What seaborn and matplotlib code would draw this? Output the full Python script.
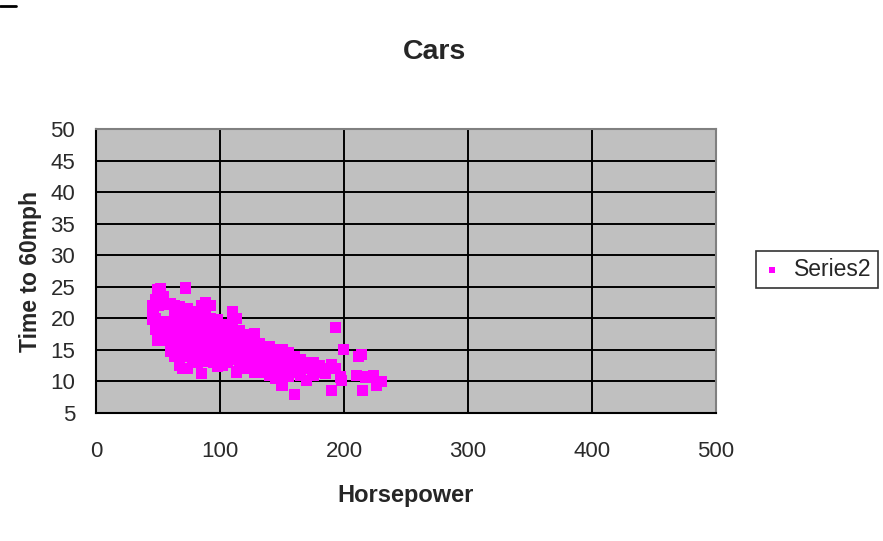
import matplotlib
matplotlib.use("Agg")
import matplotlib.pyplot as plt
from matplotlib.lines import Line2D
import seaborn as sns
import pandas as pd

# ---- data ----
horsepower = [
    46, 46, 46,
    48, 48, 48, 48,
    50, 50, 50, 50, 50, 50,
    52, 52, 52,
    54, 54, 54, 54,
    56, 56, 56, 56,
    60, 60, 60, 60, 60,
    63, 63, 63, 63, 63, 63,
    67, 67, 67, 67, 67, 67, 67,
    70, 70, 70, 70, 70, 70,
    72,
    74, 74, 74, 74, 74, 74, 74,
    78, 78, 78, 78, 78, 78,
    82, 82, 82, 82, 82, 82,
    85, 85, 85, 85,
    88, 88, 88, 88, 88, 88, 88,
    92, 92, 92, 92, 92, 92,
    95, 95, 95, 95, 95,
    98, 98, 98, 98, 98, 98,
    102, 102, 102, 102, 102, 102,
    106, 106, 106, 106, 106,
    110, 110, 110, 110, 110, 110,
    113, 113, 113, 113, 113,
    116, 116, 116, 116, 116,
    120, 120, 120, 120,
    125, 125, 125, 125, 125,
    128, 128, 128, 128, 128,
    132, 132, 132, 132,
    136, 136, 136, 136,
    140, 140, 140, 140, 140,
    145, 145, 145, 145, 145,
    150, 150, 150, 150, 150,
    155, 155, 155, 155,
    160, 160, 160, 160,
    165, 165, 165,
    170, 170, 170,
    175, 175, 175,
    180, 180,
    185, 185,
    190, 190,
    193, 193,
    197, 198, 199.5,
    210, 211.5, 214, 215, 217,
    224, 226, 230,
]
time_to_60 = [
    19.8, 21.0, 22.0,
    19.5, 20.0, 23.0, 18.3,
    24.6, 23.5, 22.0, 17.0, 16.5, 18.0,
    24.7, 16.5, 19.0,
    23.5, 22.5, 17.5, 19.0,
    22.2, 18.5, 16.5, 19.5,
    22.4, 19.0, 17.5, 16.0, 14.8,
    22.0, 20.5, 18.5, 17.0, 15.5, 14.0,
    21.8, 20.0, 18.5, 16.8, 15.0, 13.5, 12.5,
    21.0, 19.5, 18.0, 16.5, 14.5, 12.0,
    24.8,
    21.5, 20.0, 18.5, 17.0, 15.5, 14.0, 12.0,
    21.0, 19.5, 18.0, 16.5, 15.0, 13.5,
    20.5, 19.0, 17.5, 16.0, 14.5, 13.0,
    22.0, 18.5, 15.5, 11.3,
    22.5, 21.0, 19.5, 17.0, 15.0, 14.0, 13.2,
    22.0, 20.0, 18.5, 16.5, 15.0, 13.5,
    19.5, 17.5, 16.0, 14.5, 13.0,
    19.8, 18.0, 16.5, 15.0, 13.5, 12.3,
    19.0, 17.5, 16.0, 14.5, 13.0, 12.5,
    19.0, 17.0, 15.5, 14.0, 13.0,
    21.0, 19.5, 18.0, 16.5, 15.0, 13.5,
    20.0, 17.0, 15.5, 14.0, 11.5,
    18.0, 16.5, 15.0, 13.0, 12.0,
    17.0, 15.5, 14.0, 12.5,
    17.5, 16.0, 14.5, 13.0, 12.0,
    17.6, 15.5, 14.0, 12.5, 11.5,
    16.0, 14.5, 13.0, 12.0,
    15.5, 14.0, 12.5, 11.5,
    15.5, 14.5, 13.0, 12.0, 11.0,
    15.0, 14.0, 12.5, 11.5, 10.5,
    15.0, 13.5, 12.0, 11.0, 9.3,
    14.5, 13.0, 12.0, 10.8,
    14.0, 12.5, 11.5, 7.9,
    13.5, 12.5, 11.0,
    13.0, 12.0, 10.2,
    13.0, 12.0, 11.0,
    12.5, 11.5,
    12.0, 11.2,
    12.6, 8.6,
    18.6, 12.0,
    10.7, 10.2, 15.1,
    11.0, 13.9, 14.2, 8.6, 10.7,
    11.0, 9.4, 10.0,
]
series_name = "Series2"
title = "Cars"
x_label = "Horsepower"
y_label = "Time to 60mph"
x_ticks = [0, 100, 200, 300, 400, 500]
y_ticks = [5, 10, 15, 20, 25, 30, 35, 40, 45, 50]

df = pd.DataFrame({"hp": horsepower, "t": time_to_60})

sns.set_style("white")
plt.rcParams["font.family"] = ["Liberation Sans", "DejaVu Sans"]

W, H = 883, 541
fig = plt.figure(figsize=(W / 100, H / 100), dpi=100)
ax = fig.add_axes([96 / W, 1 - 413 / H, (716 - 96) / W, (413 - 129) / H])
ax.set_facecolor("#C0C0C0")

sns.scatterplot(data=df, x="hp", y="t", ax=ax, marker="s", s=64,
                color="#FF00FF", edgecolor="none", linewidth=0,
                label=series_name, zorder=3)

ax.set_xlim(0, 500)
ax.set_ylim(5, 50)
ax.set_xticks(x_ticks)
ax.set_yticks(y_ticks)
ax.set_xticklabels([str(v) for v in x_ticks])
ax.set_yticklabels([str(v) for v in y_ticks])
ax.grid(True, color="black", linewidth=1.4, zorder=1)
ax.set_axisbelow(True)

for side in ["top", "right"]:
    ax.spines[side].set_color("#808080")
    ax.spines[side].set_linewidth(1.5)
    ax.spines[side].set_visible(True)
for side in ["left", "bottom"]:
    ax.spines[side].set_color("black")
    ax.spines[side].set_linewidth(1.5)
    ax.spines[side].set_visible(True)

ax.tick_params(axis="both", which="major", direction="out", length=7,
               width=1.4, color="black", labelsize=16, labelcolor="#2a2a2a")
ax.tick_params(axis="y", pad=8)
ax.tick_params(axis="x", pad=13)

ax.set_xlabel(x_label, fontsize=17, fontweight="bold", labelpad=16)
ax.set_ylabel(y_label, fontsize=16.5, fontweight="bold", labelpad=6)
fig.text(435 / W, 1 - 52 / H, title, fontsize=20.5, fontweight="bold",
         ha="center", va="center")

leg = ax.legend(loc="center left", bbox_to_anchor=(756 / W, 1 - 269.5 / H),
                bbox_transform=fig.transFigure, frameon=True, fancybox=False,
                fontsize=16.5, handlelength=0.8, handletextpad=0.55,
                borderpad=0.3, markerscale=0.6, borderaxespad=0)
leg.get_frame().set_edgecolor("black")
leg.get_frame().set_linewidth(1.2)

# small dark stroke in the top-left corner of the picture
fig.add_artist(Line2D([0, 16 / W], [1 - 6 / H, 1 - 6 / H], color="black",
                      linewidth=2, transform=fig.transFigure))

fig.savefig("out.png", dpi=100)
